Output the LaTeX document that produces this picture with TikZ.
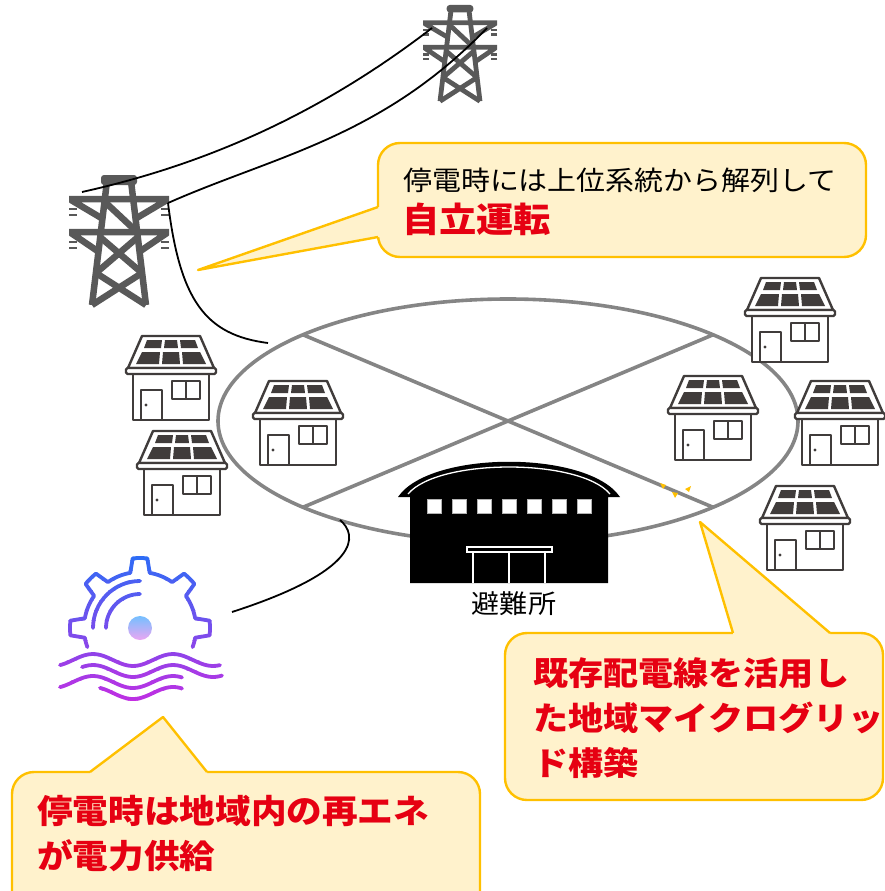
\documentclass[tikz,border=0pt]{standalone}
\usepackage{fontspec}
\newfontfamily\jpfont[FakeStretch=1.08]{Noto Sans CJK JP}
\usetikzlibrary{calc}

\definecolor{pylongray}{HTML}{595959}
\definecolor{housegray}{HTML}{403C3B}
\definecolor{ringgray}{HTML}{858585}
\definecolor{calloutfill}{HTML}{FFF2CC}
\definecolor{calloutedge}{HTML}{FFC000}
\definecolor{alertred}{HTML}{E60012}
\definecolor{hydroblue}{HTML}{2D6CF6}
\definecolor{hydromagenta}{HTML}{C52DE2}
\definecolor{dottop}{HTML}{74BFFF}
\definecolor{dotbottom}{HTML}{EBA6F2}

\tikzset{
  houseline/.style={draw=housegray, line width=2.4pt, line join=round},
  % solar house, origin at the top left corner of the roof
  house/.pic={
    \draw[houseline, fill=white] (7,39) rectangle (83,85);
    \draw[houseline, fill=white] (16,1) -- (74,1) -- (88,33) -- (2,33) -- cycle;
    \draw[houseline, fill=white, rounded corners=1.5pt] (0,33) rectangle (90,39);
    \fill[housegray] (21,5) -- (36,5) -- (35,13) -- (18,13) -- cycle
                     (39,5) -- (51,5) -- (52,13) -- (38,13) -- cycle
                     (54,5) -- (69,5) -- (72,13) -- (55,13) -- cycle
                     (16,17) -- (34,17) -- (33,29) -- (10,29) -- cycle
                     (37,17) -- (53,17) -- (54,29) -- (36,29) -- cycle
                     (56,17) -- (74,17) -- (80,29) -- (57,29) -- cycle;
    \draw[houseline] (15,55) rectangle (36,85);
    \fill[housegray] (20,70) circle[radius=1.6];
    \draw[houseline] (46,46) rectangle (74,64) (60,46) -- (60,64);
  },
  % steel tower, origin at the top centre
  pylon/.pic={
    \fill[pylongray, rounded corners=3pt] (-18,0) rectangle (18,10);
    \draw (-12,6) -- (-27,130) (12,6) -- (27,130);
    \draw (-50,24) -- (50,24) (-48,25) -- (-16,44) (48,25) -- (16,44);
    \draw (-50,57) -- (50,57) (-48,58) -- (-20,77) (48,58) -- (20,77);
    \draw (-14,27) -- (18,57);
    \draw (-19,62) -- (23,98) (19,62) -- (-23,98);
    \draw (-23,98) -- (27,130) (23,98) -- (-27,130);
    \foreach \s in {-1,1}
      \draw[line width=2.6pt] (\s*50,34) -- (\s*42,34) (\s*50,40) -- (\s*42,40)
                              (\s*50,67) -- (\s*42,67) (\s*50,73) -- (\s*42,73);
  },
}

% water wheel with gear rim, drawn in whatever colour hydroband holds
\newcommand\hydrostrokes{%
  \begin{scope}[shift={(140,628)}, yscale=-1]
    \draw[hydroline] (-20:56) arc[start angle=-20, end angle=-10, radius=56]
      \foreach \a in {0,45,90,135} {
        -- ({\a-6}:70) arc[start angle={\a-6}, end angle={\a+6}, radius=70]
        -- ({\a+10}:56) arc[start angle={\a+10}, end angle={\a+35}, radius=56]}
      -- (174:70) arc[start angle=174, end angle=186, radius=70]
      -- (190:56) arc[start angle=190, end angle=200, radius=56];
    \draw[hydroline] (90:47) arc[start angle=90, end angle=180, radius=47];
    \draw[hydroline] (90:34) arc[start angle=90, end angle=180, radius=34];
  \end{scope}
  \foreach \wx/\wy/\wz in {60/660/220, 82/671/222, 60/682/182, 100/693/182}
    \draw[hydroline] plot[domain=\wx:\wz, samples=41, smooth] (\x, {\wy-6*cos((\x-93)*4.5)});
}

\begin{document}
\begin{tikzpicture}[x=1pt, y=-1pt,
  ring/.style={draw=ringgray, line width=3.6pt},
  wire/.style={draw=black, line width=1.8pt},
  callout/.style={draw=calloutedge, fill=calloutfill, line width=2.4pt, rounded corners=22pt},
  calloutside/.style={draw=calloutedge, line width=2.4pt, line join=round},
  hydroline/.style={draw=hydroband, line width=3.8pt, line join=round, line cap=round},
  note/.style={anchor=west, inner sep=0pt, align=left},
]
\useasboundingbox (0,0) rectangle (885,891);
\clip (0,0) rectangle (885,891);

% distribution ring
\coordinate (hub) at (508,421);
\draw[ring] (hub) ellipse [x radius=290, y radius=122];
\coordinate (rimNW) at ($(hub)+(-135:290 and 122)$);
\coordinate (rimNE) at ($(hub)+(-45:290 and 122)$);
\coordinate (rimSW) at ($(hub)+(135:290 and 122)$);
\coordinate (rimSE) at ($(hub)+(45:290 and 122)$);
\draw[ring] (rimNW) -- (rimSE) (rimSW) -- (rimNE);

% towers
\pic[color=pylongray, line width=6.5pt, line join=round] (bigTower) at (119,175) {pylon};
\pic[color=pylongray, line width=4.8pt, line join=round, scale=0.74] (smallTower) at (460,5) {pylon};

% lines
\coordinate (bigTop) at (82,192);
\coordinate (bigArm) at (168,203);
\coordinate (smallL) at (432,28);
\coordinate (smallR) at (487,28);
\coordinate (ringTap) at (268,343);
\coordinate (ringOut) at (340,520);
\coordinate (hydroTap) at (232,612);
\draw[wire] (bigTop) .. controls (199,166) and (315,118) .. (smallL);
\draw[wire] (bigArm) .. controls (274,156) and (381,138) .. (smallR);
\draw[wire] (bigArm) .. controls (180,300) and (205,335) .. (ringTap);
\draw[wire] (ringOut) .. controls (358,535) and (362,570) .. (hydroTap);

% houses with rooftop PV
\foreach \hx/\hy/\hn in {126/335/homeA, 137/430/homeB, 253/380/homeC, 668/375/homeD,
                         745/277/homeE, 795/380/homeF, 760/485/homeG}
  \pic (\hn) at (\hx,\hy) {house};

% shelter hall
\fill[black] (398,497) .. controls (430,450) and (588,450) .. (620,497)
  -- (608,497) -- (608,583) -- (410,583) -- (410,497) -- cycle;
\draw[white, line width=1.3pt] (408,494) .. controls (438,458) and (580,458) .. (610,494);
\foreach \i in {0,...,6}
  \draw[draw=gray!60, fill=white, line width=0.6pt] ({427+25*\i},499) rectangle +(14,14);
\draw[white, line width=1.3pt] (467,547) rectangle (552,552)
  (473,552) -- (473,583) (509,552) -- (509,583) (545,552) -- (545,583);
\node[font=\jpfont\fontsize{26}{26}\selectfont] (shelterName) at (514,604) {避難所};

% small hydro
\foreach \k in {0,...,15}{
  \pgfmathtruncatemacro\mixpct{100*\k/15}
  \colorlet{hydroband}{hydromagenta!\mixpct!hydroblue}
  \begin{scope}
    \clip (50,{550+10*\k}) rectangle (230,{560+10*\k});
    \hydrostrokes
  \end{scope}
}
\shade[top color=dottop, bottom color=dotbottom] (140,628) circle[radius=12];

% spark marks
\fill[calloutedge] (660,483) -- (666,485) -- (663,489) -- cycle
                   (672,492) -- (678,493) -- (675,498) -- cycle
                   (685,489) -- (691,486) -- (689,492) -- cycle;

% callouts
\draw[callout] (378,143) rectangle (866,257);
\coordinate (tipA) at (198,270);
\fill[calloutfill] (382,207) -- (378,207) -- (tipA) -- (378,237) -- (382,237) -- cycle;
\draw[calloutside] (378,207) -- (tipA) -- (378,237);

\draw[callout] (505,633) rectangle (883,800);
\coordinate (tipB) at (700,522);
\fill[calloutfill] (733,637) -- (733,633) -- (tipB) -- (830,633) -- (830,637) -- cycle;
\draw[calloutside] (733,633) -- (tipB) -- (830,633);

\draw[callout] (12,772) rectangle (480,920);
\coordinate (tipC) at (163,717);
\fill[calloutfill] (90,776) -- (90,772) -- (tipC) -- (207,772) -- (207,776) -- cycle;
\draw[calloutside] (90,772) -- (tipC) -- (207,772);

\node[note, text=black, font=\jpfont\fontsize{26.8}{30}\selectfont] (isolateNote) at (403,180) {停電時には上位系統から解列して};
\node[note, text=alertred, font=\jpfont\bfseries\fontsize{34.5}{36}\selectfont] (islandNote) at (402,219) {自立運転};
\node[note, text=alertred, font=\jpfont\bfseries\fontsize{32.5}{45}\selectfont] (gridNote) at (533,718) {既存配電線を活用し\\た地域マイクログリッ\\ド構築};
\node[note, text=alertred, font=\jpfont\bfseries\fontsize{33}{45}\selectfont] (renewNote) at (37,834) {停電時は地域内の再エネ\\が電力供給};
\end{tikzpicture}
\end{document}
